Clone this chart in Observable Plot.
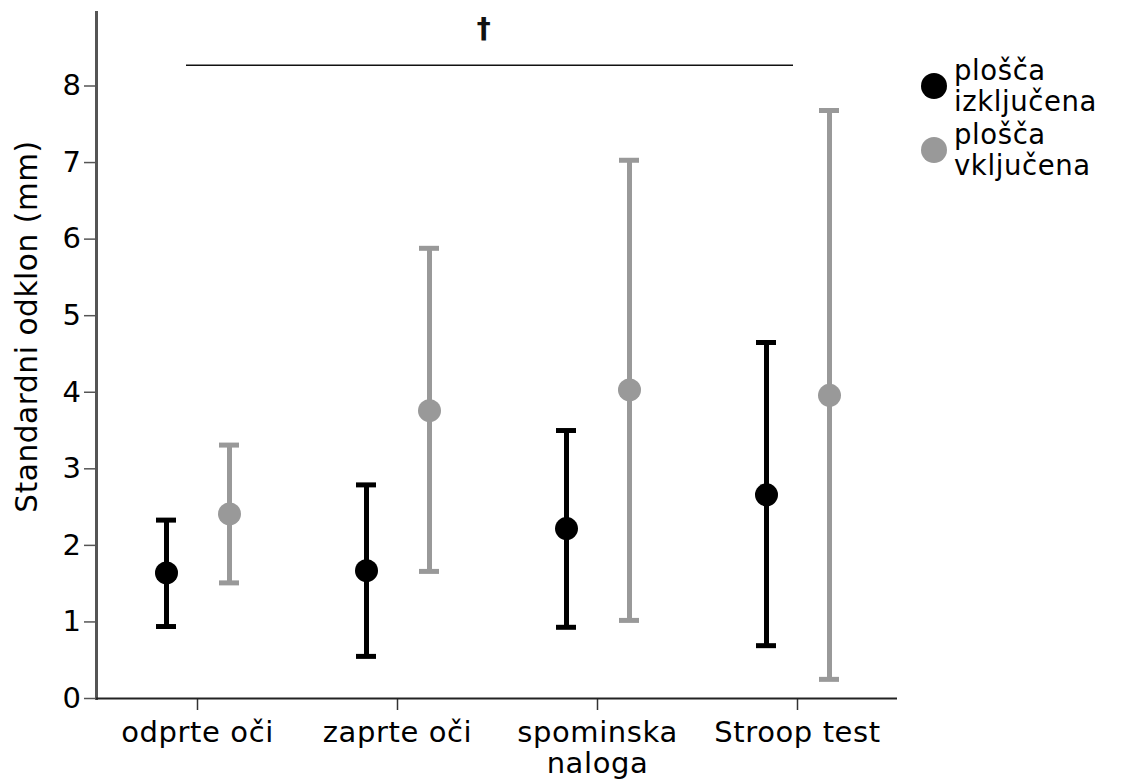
<!DOCTYPE html>
<html>
<head>
<meta charset="utf-8">
<script src="https://cdn.jsdelivr.net/npm/d3@7"></script>
<script src="https://cdn.jsdelivr.net/npm/@observablehq/plot@0.6"></script>
<style>
  html, body { margin: 0; padding: 0; background: #fff; }
  #wrap { position: relative; width: 1121px; height: 781px; }
  #legend { position: absolute; left: 921px; top: 55px; font-family: "DejaVu Sans", sans-serif; font-size: 27.5px; line-height: 31px; letter-spacing: 0.6px; color: #000; }
  .item { display: flex; align-items: center; margin-bottom: 2px; }
  .sw { width: 26px; height: 26px; border-radius: 50%; margin-right: 7px; flex: none; }
</style>
</head>
<body>
<div id="wrap"><div id="chart"></div><div id="legend"></div></div>
<script>
const categories = ["odprte oči", "zaprte oči", "spominska naloga", "Stroop test"];
const series = ["plošča izključena", "plošča vključena"];
const seriesLines = [["plošča", "izključena"], ["plošča", "vključena"]];
const colors = ["#000000", "#999999"];
const offMean = [1.64, 1.67, 2.22, 2.66];
const offLow  = [0.94, 0.55, 0.93, 0.69];
const offHigh = [2.33, 2.79, 3.50, 4.65];
const onMean  = [2.41, 3.76, 4.03, 3.96];
const onLow   = [1.51, 1.66, 1.02, 0.25];
const onHigh  = [3.31, 5.88, 7.03, 7.68];
const yTicks = [0, 1, 2, 3, 4, 5, 6, 7, 8];
const yTitle = "Standardni odklon (mm)";
const sigMark = "†";
const sigLevel = 8.27;
const daggerLevel = 8.75;

const rows = [];
categories.forEach((c, i) => {
  rows.push({cat: c, group: series[0], mean: offMean[i], low: offLow[i], high: offHigh[i]});
  rows.push({cat: c, group: series[1], mean: onMean[i], low: onLow[i], high: onHigh[i]});
});
const offsets = [-31, 32];

const groupMarks = series.flatMap((g, k) => {
  const d = rows.filter(r => r.group === g);
  return [
    Plot.ruleX(d, {x: "cat", y1: "low", y2: "high", stroke: "group", strokeWidth: 5, dx: offsets[k]}),
    Plot.tickY(d, {x: "cat", y: "low", stroke: "group", strokeWidth: 5, insetLeft: 90, insetRight: 90, dx: offsets[k]}),
    Plot.tickY(d, {x: "cat", y: "high", stroke: "group", strokeWidth: 5, insetLeft: 90, insetRight: 90, dx: offsets[k]}),
    Plot.dot(d, {x: "cat", y: "mean", fill: "group", r: 11.5, dx: offsets[k]})
  ];
});

const chart = Plot.plot({
  width: 1121,
  height: 781,
  marginLeft: 96,
  marginRight: 224,
  marginTop: 12,
  marginBottom: 83,
  style: {fontFamily: "DejaVu Sans, sans-serif", fontSize: "29px", background: "white", color: "black", overflow: "visible", letterSpacing: "0.6px"},
  x: {domain: categories, padding: 0, axis: null},
  y: {domain: [0, 8.96], axis: null},
  color: {domain: series, range: colors},
  marks: [
    Plot.axisY({ticks: yTicks, tickSize: 12, tickPadding: 3, fontSize: 29, label: null, stroke: "#555", strokeWidth: 1.5}),
    Plot.axisX({tickSize: 12, tickPadding: 10, fontSize: 29, label: null, stroke: "#333", strokeWidth: 1.5,
      tickFormat: d => d.replace(" naloga", "\nnaloga"), lineHeight: 1.06}),
    Plot.frame({anchor: "left", stroke: "#555", strokeWidth: 3}),
    Plot.ruleY([0], {stroke: "#222", strokeWidth: 2}),
    Plot.text([yTitle], {frameAnchor: "left", textAnchor: "middle", lineAnchor: "middle", rotate: -90, dx: -69, dy: -29, fontSize: 29.5, fill: "black"}),
    Plot.ruleY([sigLevel], {x1: () => categories[0], x2: () => categories[3], insetLeft: 89, insetRight: 104, stroke: "#111", strokeWidth: 1.5}),
    Plot.text([sigMark], {y: () => daggerLevel, frameAnchor: "top", lineAnchor: "middle", dx: -13, fontSize: 28, fontWeight: "bold", fill: "#111"}),
    ...groupMarks
  ]
});
document.getElementById("chart").appendChild(chart);

const legend = document.getElementById("legend");
series.forEach((s, k) => {
  const item = document.createElement("div");
  item.className = "item";
  const sw = document.createElement("div");
  sw.className = "sw";
  sw.style.background = colors[k];
  const t = document.createElement("div");
  t.innerHTML = seriesLines[k].join("<br>");
  item.appendChild(sw); item.appendChild(t);
  legend.appendChild(item);
});
</script>
</body>
</html>
